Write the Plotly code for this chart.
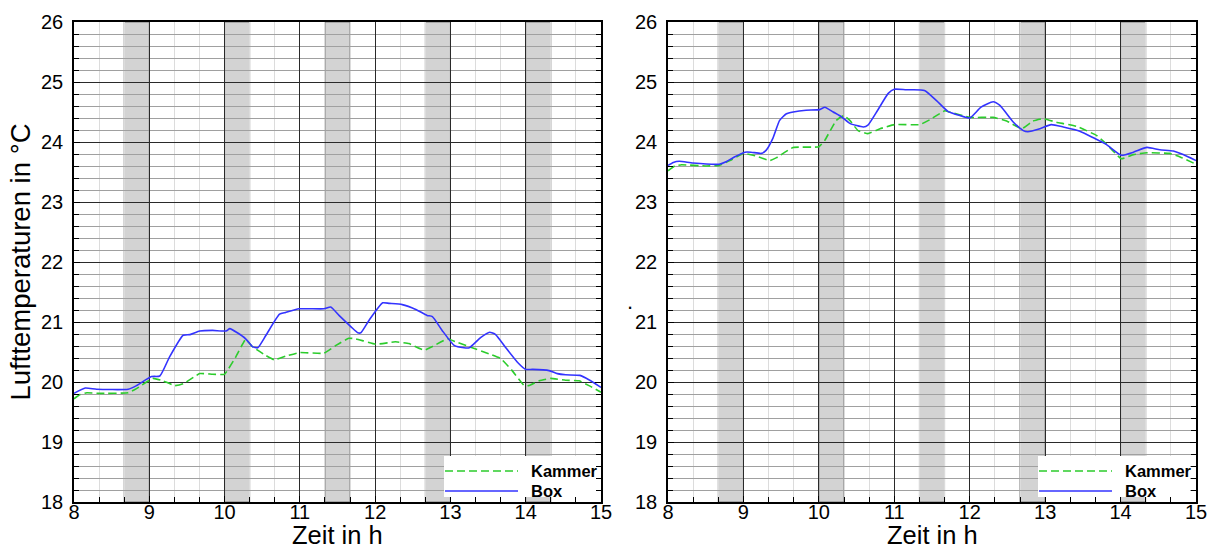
import plotly.graph_objects as go

# ---------------- data ----------------
left_box_t = [8.0, 8.15, 8.3, 8.72, 8.83, 9.03, 9.14, 9.27, 9.45, 9.54, 9.67, 9.84, 10.02, 10.07, 10.17,
              10.28, 10.37, 10.44, 10.55, 10.73, 10.81, 10.99, 11.32, 11.41, 11.52, 11.68, 11.77, 11.81,
              11.92, 12.10, 12.19, 12.36, 12.54, 12.69, 12.76, 12.89, 13.05, 13.18, 13.25, 13.40, 13.52,
              13.60, 13.73, 13.89, 14.0, 14.09, 14.31, 14.42, 14.53, 14.72, 14.85, 15.0]
left_box_v = [19.81, 19.9, 19.88, 19.88, 19.94, 20.09, 20.1, 20.42, 20.78, 20.79, 20.85, 20.86, 20.85, 20.89,
              20.82, 20.72, 20.59, 20.57, 20.78, 21.13, 21.16, 21.22, 21.22, 21.25, 21.11, 20.92, 20.82,
              20.82, 21.03, 21.32, 21.31, 21.29, 21.21, 21.11, 21.09, 20.86, 20.61, 20.57, 20.57, 20.74,
              20.83, 20.79, 20.58, 20.33, 20.21, 20.21, 20.19, 20.14, 20.12, 20.11, 20.03, 19.91]

left_kammer_t = [8.0, 8.08, 8.17, 8.34, 8.72, 8.83, 9.05, 9.18, 9.34, 9.45, 9.67, 9.84, 10.0, 10.15, 10.28,
                 10.37, 10.55, 10.66, 10.81, 10.99, 11.32, 11.48, 11.65, 11.74, 12.01, 12.27, 12.45, 12.65,
                 12.76, 12.96, 13.07, 13.29, 13.51, 13.67, 13.82, 13.98, 14.04, 14.18, 14.33, 14.53, 14.71,
                 14.84, 15.0]
left_kammer_v = [19.72, 19.79, 19.82, 19.81, 19.82, 19.89, 20.06, 20.02, 19.94, 19.97, 20.14, 20.13, 20.13,
                 20.42, 20.71, 20.59, 20.44, 20.37, 20.43, 20.49, 20.48, 20.61, 20.73, 20.72, 20.63, 20.67,
                 20.64, 20.53, 20.59, 20.72, 20.67, 20.57, 20.47, 20.39, 20.19, 19.94, 19.94, 20.02, 20.06,
                 20.03, 20.02, 19.94, 19.83]

right_box_t = [8.0, 8.07, 8.15, 8.33, 8.68, 8.77, 8.88, 9.02, 9.10, 9.24, 9.30, 9.39, 9.48, 9.57, 9.66, 9.83,
               10.01, 10.08, 10.19, 10.30, 10.41, 10.59, 10.65, 10.78, 10.92, 11.0, 11.16, 11.40, 11.56,
               11.71, 11.87, 12.0, 12.15, 12.31, 12.40, 12.58, 12.71, 12.77, 12.93, 13.08, 13.24, 13.46,
               13.64, 13.81, 14.01, 14.17, 14.35, 14.52, 14.70, 14.83, 15.0]
right_box_v = [23.61, 23.66, 23.68, 23.65, 23.63, 23.67, 23.75, 23.83, 23.83, 23.81, 23.86, 24.06, 24.36,
               24.47, 24.5, 24.53, 24.54, 24.58, 24.5, 24.42, 24.31, 24.25, 24.28, 24.53, 24.81, 24.88,
               24.87, 24.86, 24.69, 24.51, 24.44, 24.4, 24.58, 24.67, 24.61, 24.33, 24.19, 24.17, 24.22,
               24.29, 24.25, 24.18, 24.07, 23.96, 23.78, 23.83, 23.91, 23.87, 23.85, 23.79, 23.69]

right_kammer_t = [8.0, 8.09, 8.18, 8.51, 8.68, 8.82, 9.0, 9.13, 9.35, 9.44, 9.66, 10.0, 10.08, 10.23, 10.33,
                  10.41, 10.52, 10.65, 10.81, 11.0, 11.34, 11.47, 11.67, 11.73, 12.0, 12.31, 12.49, 12.69,
                  12.84, 12.97, 13.15, 13.42, 13.68, 13.81, 14.01, 14.17, 14.35, 14.65, 14.79, 15.0]
right_kammer_v = [23.52, 23.6, 23.62, 23.6, 23.61, 23.69, 23.81, 23.78, 23.69, 23.74, 23.91, 23.92, 24.03,
                  24.36, 24.44, 24.36, 24.19, 24.14, 24.22, 24.29, 24.29, 24.37, 24.52, 24.5, 24.41, 24.41,
                  24.35, 24.22, 24.35, 24.39, 24.33, 24.26, 24.11, 23.97, 23.72, 23.79, 23.82, 23.81, 23.75,
                  23.63]

band_starts = [8 + 2 / 3, 10.0, 11 + 1 / 3, 12 + 2 / 3, 14.0]
band_width = 1 / 3
series_names = ["Kammer", "Box"]
x_title = "Zeit in h"
y_title = "Lufttemperaturen in °C"

# ---------------- styling ----------------
W, H = 1215, 550
FONT = "Liberation Sans, Arial, sans-serif"
GREEN = "#2ccc2c"
BLUE = "#3333ff"
TICK_SIZE = 20

fig = go.Figure()

panels = [
    ("x", "y", left_kammer_t, left_kammer_v, left_box_t, left_box_v),
    ("x2", "y2", right_kammer_t, right_kammer_v, right_box_t, right_box_v),
]
for xa, ya, kt, kv, bt, bv in panels:
    fig.add_trace(go.Scatter(x=kt, y=kv, xaxis=xa, yaxis=ya, mode="lines", name=series_names[0],
                             line=dict(color=GREEN, width=1.6, dash="8px,4px", shape="spline", smoothing=0.3),
                             showlegend=False))
    fig.add_trace(go.Scatter(x=bt, y=bv, xaxis=xa, yaxis=ya, mode="lines", name=series_names[1],
                             line=dict(color=BLUE, width=1.6, shape="spline", smoothing=0.5),
                             showlegend=False))

# shaded bands
for xa, ya in [("x", "y"), ("x2", "y2")]:
    for s in band_starts:
        fig.add_shape(type="rect", xref=xa, yref=ya, x0=s, x1=s + band_width, y0=18, y1=26,
                      fillcolor="#d3d3d3", line=dict(color="#7a7a7a", width=1), layer="below")


def xaxis_cfg(dom, anchor):
    return dict(domain=dom, anchor=anchor, range=[8, 15], tick0=8, dtick=1,
                showgrid=True, gridcolor="#2a2a2a", gridwidth=1, zeroline=False,
                ticks="inside", ticklen=6, tickcolor="black",
                showline=True, linecolor="black", linewidth=1.5, mirror=True,
                tickfont=dict(family=FONT, size=TICK_SIZE, color="black"),
                ticklabelstandoff=-9,
                minor=dict(tick0=8, dtick=1 / 3, showgrid=True, gridcolor="#dcdcdc", gridwidth=1,
                           ticks="inside", ticklen=5, tickcolor="black"),
                automargin=False, fixedrange=True)


def yaxis_cfg(dom, anchor, title):
    return dict(domain=dom, anchor=anchor, range=[18, 26], tick0=18, dtick=1,
                showgrid=True, gridcolor="#2a2a2a", gridwidth=1, zeroline=False,
                ticks="inside", ticklen=6, tickcolor="black",
                showline=True, linecolor="black", linewidth=1.5, mirror="allticks",
                tickfont=dict(family=FONT, size=TICK_SIZE, color="black"),
                ticklabelstandoff=5,
                title=dict(text=title, font=dict(family=FONT, size=27.5, color="black"), standoff=2),
                minor=dict(tick0=18, dtick=0.2, showgrid=True, gridcolor="#a0a0a0", gridwidth=1,
                           ticks="inside", ticklen=5, tickcolor="black"),
                automargin=False, fixedrange=True)


px0_left, px1_left = 74, 601
px0_right, px1_right = 668, 1196
py_top, py_bot = 22, 502
ydom = [1 - py_bot / H, 1 - py_top / H]

fig.update_layout(
    width=W, height=H,
    margin=dict(l=0, r=0, t=0, b=0),
    paper_bgcolor="white", plot_bgcolor="white",
    font=dict(family=FONT, color="black"),
    xaxis=xaxis_cfg([px0_left / W, px1_left / W], "y"),
    yaxis=yaxis_cfg(ydom, "x", y_title),
    xaxis2=xaxis_cfg([px0_right / W, px1_right / W], "y2"),
    yaxis2=yaxis_cfg(ydom, "x2", ""),
)

# x-axis titles
for (a, b) in [(px0_left, px1_left), (px0_right, px1_right)]:
    fig.add_annotation(xref="paper", yref="paper", x=(a + b) / 2 / W, y=0,
                       xanchor="center", yanchor="bottom", showarrow=False, text=x_title,
                       borderpad=0, font=dict(family=FONT, size=25.5, color="black"))

# legends drawn per panel
for off in [0, px0_right - px0_left]:
    x0 = 444 + off
    x1 = px1_left - 5 + off
    fig.add_shape(type="rect", xref="paper", yref="paper",
                  x0=x0 / W, x1=x1 / W, y0=1 - 497 / H, y1=1 - 456 / H,
                  fillcolor="white", line=dict(width=0), layer="above")
    for i, (name, col, dash) in enumerate([(series_names[0], GREEN, "8px,4px"), (series_names[1], BLUE, "solid")]):
        yy = 471 + 20 * i
        fig.add_shape(type="line", xref="paper", yref="paper",
                      x0=(x0 + 1) / W, x1=(x0 + 74) / W, y0=1 - yy / H, y1=1 - yy / H,
                      line=dict(color=col, width=1.6, dash=dash), layer="above")
        fig.add_annotation(xref="paper", yref="paper", x=(x0 + 85) / W, y=1 - yy / H,
                           xanchor="left", yanchor="middle", showarrow=False, text=f"<b>{name}</b>",
                           font=dict(family=FONT, size=16.5, color="black"))

# the stray dot used as the right panel's y-axis title
fig.add_annotation(xref="paper", yref="paper", x=630 / W, y=1 - 316 / H, xanchor="center",
                   yanchor="bottom", showarrow=False, text=".",
                   font=dict(family=FONT, size=22, color="black"))

fig.write_html("out.html")
